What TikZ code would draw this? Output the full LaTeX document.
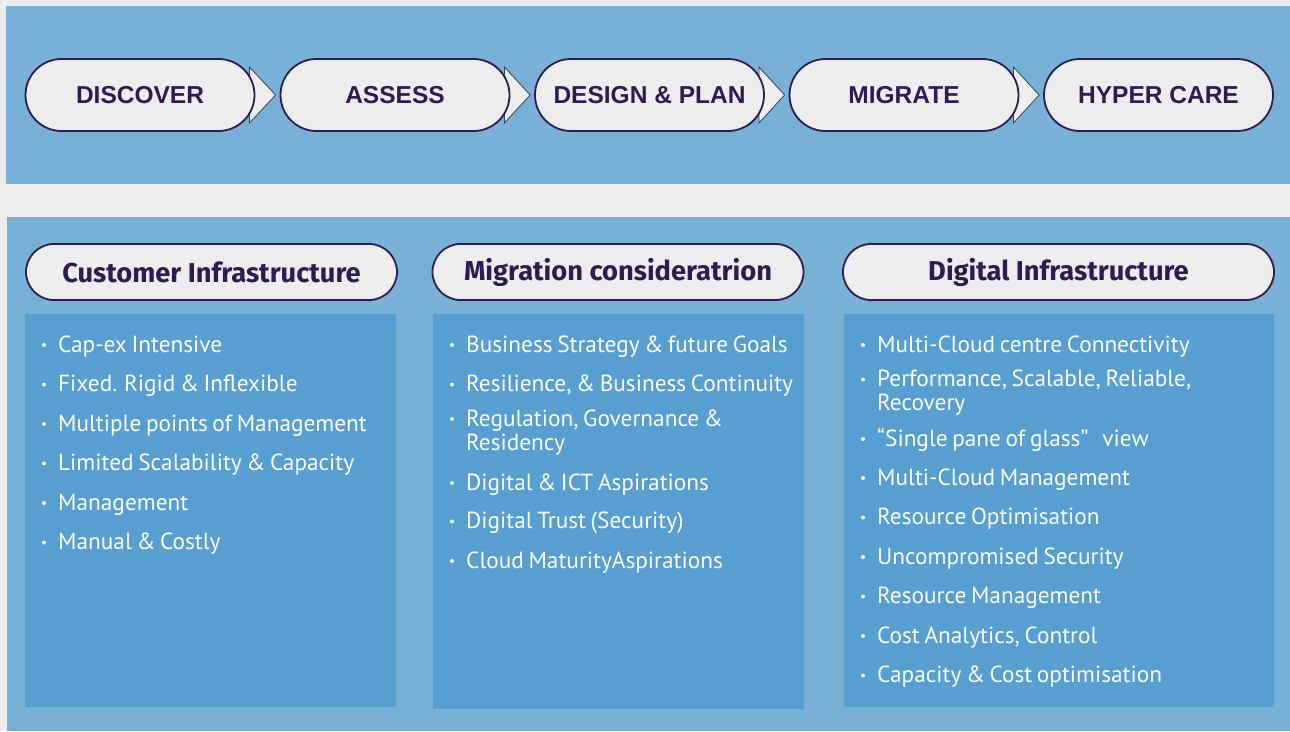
\documentclass[tikz,border=0pt]{standalone}
\usepackage{fontspec}
\setmainfont{PT Sans}
\newfontfamily\pillfont{Liberation Sans}
\newfontfamily\headfont[Ligatures=NoCommon]{Fira Sans}
\newfontfamily\itemfont[WordSpace=0.75]{PT Sans}
\usetikzlibrary{calc}
\definecolor{bgc}{HTML}{EDEDED}
\definecolor{panelc}{HTML}{78B0D6}
\definecolor{boxc}{HTML}{569FD0}
\definecolor{pillc}{HTML}{EDEDED}
\definecolor{purp}{HTML}{2E1B54}
\definecolor{tri}{HTML}{2F4466}
\pgfdeclarelayer{bgl}
\pgfdeclarelayer{midl}
\pgfsetlayers{bgl,midl,main}
\tikzset{
  stagepill/.style={draw=purp, line width=1.8pt, fill=pillc, rounded corners=36pt,
    minimum width=229pt, minimum height=72pt, inner sep=0pt, text=purp,
    font=\pillfont\bfseries\fontsize{24.5}{24.5}\selectfont},
  headpill/.style={draw=purp, line width=1.8pt, fill=pillc, rounded corners=28pt,
    minimum height=56pt, inner sep=0pt, text=purp,
    font=\headfont\bfseries\fontsize{27.3}{27.3}\selectfont},
  chev/.style={draw=tri, line width=0.8pt, fill=pillc, line join=miter},
  item/.style={anchor=base west, inner sep=0pt, text=white,
    font=\itemfont\fontsize{23.3}{24}\selectfont},
  dot/.style={circle, fill=white, inner sep=0pt, minimum size=4pt},
  panel/.style={fill=panelc},
  colbox/.style={fill=boxc}
}
\begin{document}
\begin{tikzpicture}[x=1pt, y=-1pt]
\useasboundingbox (0,0) rectangle (1290,731);
\begin{pgfonlayer}{bgl}
\fill[bgc] (0,0) rectangle (1290,731);
\fill[panel] (6,6) rectangle (1290,184);
\fill[panel] (7,217) rectangle (1290,731);
\fill[colbox] (25,314) rectangle (396,707);
\fill[colbox] (433,314) rectangle (804,709);
\fill[colbox] (844,314) rectangle (1274,707);
\end{pgfonlayer}

% stage pills
\node[stagepill] (s1) at (140,95) {DISCOVER};
\node[stagepill] (s2) at (395,95) {ASSESS};
\node[stagepill] (s3) at (649.5,95) {DESIGN \& PLAN};
\node[stagepill] (s4) at (904,95) {MIGRATE};
\node[stagepill] (s5) at (1158.5,95) {HYPER CARE};

\begin{pgfonlayer}{midl}
\foreach \a/\b in {s1/s2,s2/s3,s3/s4,s4/s5}{
  \draw[chev] ($(\a.east)+(-6,-28)$) -- ($(\b.west)+(-4,0)$) -- ($(\a.east)+(-6,28)$) -- cycle;
}
\end{pgfonlayer}

% header pills
\node[headpill, minimum width=371pt] (h1) at (211.5,272) {Customer Infrastructure};
\node[headpill, minimum width=371pt] (h2) at (618,272) {Migration consideratrion};
\node[headpill, minimum width=431pt] (h3) at (1058.5,272) {Digital Infrastructure};

% column 1
\foreach \n/\yy/\t in {a/352/{Cap-ex Intensive},b/391.5/{Fixed. Rigid \& Inflexible},c/431/{Multiple points of Management},d/470.5/{Limited Scalability \& Capacity},e/510/{Management},f/549.5/{Manual \& Costly}}{
  \node[item] (c1\n) at (58,\yy) {\t};
  \node[dot] (d1\n) at (44,\yy-7) {};
}
% column 2
\foreach \n/\yy/\t in {a/352/{Business Strategy \& future Goals},b/391.5/{Resilience, \& Business Continuity},c/426/{Regulation, Governance \&},e/490/{Digital \& ICT Aspirations},f/528.5/{Digital Trust (Security)},g/568/{Cloud MaturityAspirations}}{
  \node[item] (c2\n) at (466,\yy) {\t};
  \node[dot] (d2\n) at (452,\yy-7) {};
}
\node[item] (c2c2) at (466,450) {Residency};
% column 3
\foreach \n/\yy/\t in {a/352/{Multi-Cloud centre Connectivity},b/386.5/{Performance, Scalable, Reliable,},c/446/{“Single pane of glass”\hspace{14pt}view},d/485/{Multi-Cloud Management},e/524.5/{Resource Optimisation},f/564/{Uncompromised Security},g/603.5/{Resource Management},h/643/{Cost Analytics, Control},i/682.5/{Capacity \& Cost optimisation}}{
  \node[item] (c3\n) at (877,\yy) {\t};
  \node[dot] (d3\n) at (863,\yy-7) {};
}
\node[item] (c3b2) at (877,410.5) {Recovery};
\end{tikzpicture}
\end{document}
